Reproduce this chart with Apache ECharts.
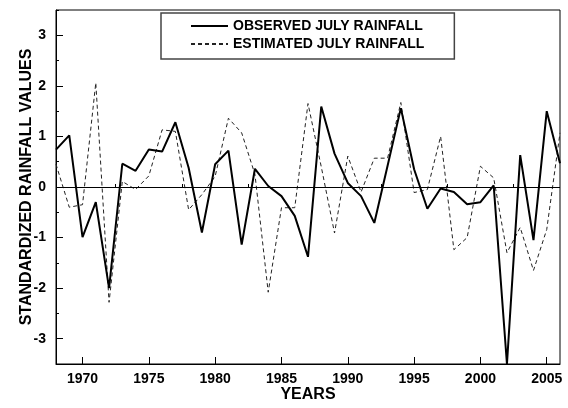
<!DOCTYPE html>
<html>
<head>
<meta charset="utf-8">
<script src="https://cdn.jsdelivr.net/npm/echarts@6/dist/echarts.min.js"></script>
<style>html,body{margin:0;padding:0;background:#fff}#c{width:568px;height:408px}</style>
</head>
<body>
<div id="c"></div>
<script>
var years = [1968,1969,1970,1971,1972,1973,1974,1975,1976,1977,1978,1979,1980,1981,1982,1983,1984,1985,1986,1987,1988,1989,1990,1991,1992,1993,1994,1995,1996,1997,1998,1999,2000,2001,2002,2003,2004,2005,2006];
var observed = [0.74,1.02,-0.99,-0.30,-2.00,0.46,0.32,0.74,0.70,1.28,0.38,-0.90,0.45,0.72,-1.14,0.36,0.02,-0.18,-0.57,-1.38,1.59,0.66,0.08,-0.18,-0.71,0.42,1.56,0.35,-0.43,-0.03,-0.10,-0.34,-0.30,0.03,-3.50,0.63,-1.05,1.50,0.47];
var estimated = [0.45,-0.40,-0.35,2.06,-2.28,0.11,-0.05,0.22,1.13,1.10,-0.45,-0.15,0.21,1.36,1.07,0.25,-2.08,-0.41,-0.41,1.65,0.40,-0.91,0.61,-0.10,0.57,0.57,1.67,-0.11,-0.05,1.00,-1.24,-1.00,0.41,0.18,-1.30,-0.80,-1.65,-0.84,1.07];
var xTickLabels = [1970,1975,1980,1985,1990,1995,2000,2005];
var xMinorTicks = [1972.5,1977.5,1982.5,1987.5,1992.5,1997.5,2002.5];
var yTickLabels = [-3,-2,-1,0,1,2,3];
var yMinorTicks = [-3.5,-2.5,-1.5,-0.5,0.5,1.5,2.5,3.5];

function pairs(xs, ys){ return xs.map(function(x,i){ return [x, ys[i]]; }); }

var font = 'Liberation Sans, Arial, Helvetica, sans-serif';
var chart = echarts.init(document.getElementById('c'), null, {renderer:'canvas'});
chart.setOption({
  animation: false,
  backgroundColor: '#fff',
  grid: {left: 56, right: 8, top: 10, bottom: 43.5, show: true, borderColor: '#000', borderWidth: 1, backgroundColor: 'transparent'},
  legend: {
    left: 161, top: 13, orient: 'vertical',
    padding: [6, 30, 8, 29], itemGap: 4, itemWidth: 37, itemHeight: 14,
    borderColor: '#444', borderWidth: 1.5, backgroundColor: '#fff',
    itemStyle: {opacity: 0},
    textStyle: {fontFamily: font, fontWeight: 'bold', fontSize: 14, color: '#000'},
    data: ['OBSERVED JULY RAINFALL', 'ESTIMATED JULY RAINFALL']
  },
  xAxis: [{
    type: 'value', min: 1968, max: 2006,
    name: 'YEARS', nameLocation: 'middle', nameGap: 23, nameMoveOverlap: false,
    nameTextStyle: {fontFamily: font, fontWeight: 'bold', fontSize: 16, color: '#000'},
    axisLine: {show: true, onZero: false, lineStyle: {color: '#000', width: 1}},
    axisTick: {show: true, inside: true, length: 7, customValues: xTickLabels, lineStyle: {color: '#000'}},
    axisLabel: {customValues: xTickLabels, margin: 8, formatter: function(v){ return String(v); }, fontFamily: font, fontWeight: 'bold', fontSize: 14, color: '#000'},
    splitLine: {show: false}
  }, {
    type: 'value', min: 1968, max: 2006, position: 'bottom',
    axisLine: {show: false},
    axisTick: {show: true, inside: true, length: 3, customValues: xMinorTicks, lineStyle: {color: '#000'}},
    axisLabel: {show: false},
    splitLine: {show: false}
  }],
  yAxis: [{
    type: 'value', min: -3.5, max: 3.5,
    name: 'STANDARDIZED RAINFALL VALUES', nameLocation: 'middle', nameGap: 21, nameMoveOverlap: false,
    nameTextStyle: {fontFamily: font, fontWeight: 'bold', fontSize: 16, color: '#000'},
    axisLine: {show: true, onZero: false, lineStyle: {color: '#000', width: 1}},
    axisTick: {show: true, inside: true, length: 7, customValues: yTickLabels, lineStyle: {color: '#000'}},
    axisLabel: {customValues: yTickLabels, margin: 10, fontFamily: font, fontWeight: 'bold', fontSize: 14, color: '#000'},
    splitLine: {show: false}
  }, {
    type: 'value', min: -3.5, max: 3.5, position: 'left',
    axisLine: {show: false},
    axisTick: {show: true, inside: true, length: 3, customValues: yMinorTicks, lineStyle: {color: '#000'}},
    axisLabel: {show: false},
    splitLine: {show: false}
  }],
  series: [{
    name: 'OBSERVED JULY RAINFALL', type: 'line', symbol: 'none',
    data: pairs(years, observed),
    lineStyle: {color: '#000', width: 2},
    itemStyle: {color: '#000'},
    markLine: {silent: true, symbol: 'none', label: {show: false},
      lineStyle: {color: '#000', width: 1, type: 'solid'}, data: [{yAxis: 0}]},
    z: 3
  }, {
    name: 'ESTIMATED JULY RAINFALL', type: 'line', symbol: 'none',
    data: pairs(years, estimated),
    lineStyle: {color: '#222', width: 1, type: [4, 3]},
    itemStyle: {color: '#222'},
    z: 2
  }]
});
</script>
</body>
</html>
